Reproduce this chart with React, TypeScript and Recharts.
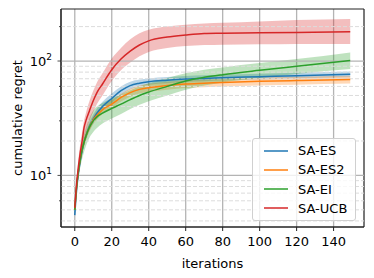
import React from 'react';
import {
  ComposedChart,
  Area,
  Line,
  XAxis,
  YAxis,
  CartesianGrid,
  ReferenceLine,
  ReferenceArea,
} from 'recharts';

// iteration points
const iterations = [0, 1, 2, 3, 4, 5, 6, 8, 10, 12, 15, 20, 25, 30, 35, 40, 50, 60, 70, 80, 100, 120, 149];

const esMean = [4.5, 7.5, 10.5, 13.5, 16.5, 19.5, 22, 27, 31, 35, 40, 47, 55, 61, 64, 66, 68, 69.5, 70.5, 71.5, 73, 74.5, 76.5];
const esHi = [4.7, 8, 11.3, 14.5, 17.8, 21, 24, 29.5, 34, 38.5, 44, 52, 60, 66, 69, 70.5, 72.5, 74, 75, 76, 77.5, 79, 81];
const esLo = [4.3, 7, 9.8, 12.5, 15.3, 18, 20.3, 24.8, 28.5, 32, 36.5, 43, 50.5, 56.5, 60, 62, 64, 65.5, 66.5, 67.5, 69, 70.5, 72];

const es2Mean = [5, 8, 11, 14, 17, 19.5, 22, 26.5, 30.5, 33.5, 37.5, 42, 48, 53, 56.5, 58.5, 61, 63, 64, 65, 66.5, 67.5, 69];
const es2Hi = [5.4, 8.6, 11.9, 15.1, 18.4, 21.1, 23.8, 28.6, 33, 36.2, 40.5, 45.4, 51.8, 57.2, 61, 63.2, 65.9, 68, 69.1, 70.2, 71.8, 72.9, 74.5];
const es2Lo = [4.6, 7.4, 10.1, 12.9, 15.6, 17.9, 20.2, 24.4, 28.1, 30.8, 34.5, 38.6, 44.2, 48.8, 52, 53.8, 56.1, 58, 58.9, 59.8, 61.2, 62.1, 63.5];

const eiMean = [5, 8, 11, 14, 17, 19.5, 22, 26.5, 30, 32.5, 35, 38.5, 42, 46, 50, 53.5, 60, 67, 72, 76, 83, 90, 101];
const eiHi = [5.3, 8.8, 12.5, 16.2, 20, 23, 26, 32, 37, 40, 43, 47, 51, 55.5, 60, 64, 71, 78, 84, 88, 96, 104, 119];
const eiLo = [4.7, 7.2, 9.5, 11.8, 14, 16, 18, 21.5, 24, 26, 28.5, 31.5, 34.5, 38, 41.5, 44.5, 50, 56, 61, 65, 71, 77, 85];

const ucbMean = [5.2, 8.5, 12, 16, 20, 26, 30, 37, 45, 53, 63, 84, 104, 122, 138, 150, 162, 169, 174, 175, 177, 178, 180];
const ucbHi = [5.5, 9.5, 14, 19, 24, 30, 35, 45, 55, 65, 78, 105, 130, 155, 175, 188, 200, 208, 213, 216, 222, 228, 233];
const ucbLo = [5, 7.5, 10.5, 13.5, 17, 21, 24, 30, 36, 42, 50, 67, 83, 97, 110, 120, 130, 135, 138, 139, 140, 141, 141];

const xTicks = [0, 20, 40, 60, 80, 100, 120, 140];
const yMajor = [10, 100];
const yMinor = [4, 5, 6, 7, 8, 9, 20, 30, 40, 50, 60, 70, 80, 90, 200];

const X_DOMAIN = [-7.45, 156.45];
const Y_DOMAIN = [3.54, 285];

const series = [
  { name: 'SA-ES', key: 'es', color: '#1f77b4' },
  { name: 'SA-ES2', key: 'es2', color: '#ff7f0e' },
  { name: 'SA-EI', key: 'ei', color: '#2ca02c' },
  { name: 'SA-UCB', key: 'ucb', color: '#d62728' },
];

const data = iterations.map((x, i) => ({
  x,
  es: esMean[i],
  esBand: [esLo[i], esHi[i]],
  es2: es2Mean[i],
  es2Band: [es2Lo[i], es2Hi[i]],
  ei: eiMean[i],
  eiBand: [eiLo[i], eiHi[i]],
  ucb: ucbMean[i],
  ucbBand: [ucbLo[i], ucbHi[i]],
}));

const FONT = 'DejaVu Sans, sans-serif';

const YTick = (props: any) => {
  const { x, y, payload } = props;
  const v = payload.value;
  const major = yMajor.includes(v);
  if (!major) {
    return <line x1={x - 2} x2={x} y1={y} y2={y} stroke="#222" strokeWidth={0.8} />;
  }
  const exp = v === 10 ? '1' : '2';
  return (
    <g>
      <line x1={x - 3.5} x2={x} y1={y} y2={y} stroke="#222" strokeWidth={0.8} />
      <text x={x - 9} y={y + 4.5} textAnchor="end" fontSize={13} fontFamily={FONT} fill="#000">
        10
        <tspan fontSize={9} dy={-6}>{exp}</tspan>
      </text>
    </g>
  );
};

export default function App() {
  return (
    <div style={{ position: 'absolute', left: 0, top: 0, width: 374, height: 278, background: '#fff' }}>
      <ComposedChart width={374} height={278} data={data} margin={{ top: 9, right: 10, left: 0, bottom: 0 }}>
        <CartesianGrid horizontal={false} stroke="#b4b4b4" strokeWidth={1.3} />
        {yMinor.map((v) => (
          <ReferenceLine key={'m' + v} y={v} stroke="#dcdcdc" strokeDasharray="4 2" strokeWidth={1} />
        ))}
        {yMajor.map((v) => (
          <ReferenceLine key={'M' + v} y={v} stroke="#b4b4b4" strokeWidth={1.3} />
        ))}
        <XAxis
          dataKey="x"
          type="number"
          domain={X_DOMAIN}
          ticks={xTicks}
          allowDataOverflow
          height={51}
          tickSize={4}
          tickMargin={6}
          stroke="#222"
          tick={{ fill: '#000', fontSize: 13, fontFamily: FONT }}
          label={{ value: 'iterations', position: 'insideBottom', offset: 10, fill: '#000', fontSize: 13, fontFamily: FONT }}
        />
        <YAxis
          scale="log"
          domain={Y_DOMAIN}
          allowDataOverflow
          ticks={[...yMinor, ...yMajor].sort((a, b) => a - b)}
          width={61}
          tickSize={0}
          tickMargin={0}
          tickLine={false}
          stroke="#222"
          tick={<YTick />}
          label={{
            value: 'cumulative regret',
            angle: -90,
            position: 'insideLeft',
            offset: 17,
            fill: '#000',
            fontSize: 13,
            fontFamily: FONT,
            style: { textAnchor: 'middle' },
          }}
        />
        {series.map((s) => (
          <Area
            key={s.key + 'band'}
            type="monotone"
            dataKey={s.key + 'Band'}
            stroke="none"
            fill={s.color}
            fillOpacity={0.3}
            isAnimationActive={false}
          />
        ))}
        {series.map((s) => (
          <Line
            key={s.key}
            type="monotone"
            dataKey={s.key}
            stroke={s.color}
            strokeWidth={1.5}
            dot={false}
            isAnimationActive={false}
          />
        ))}
        {/* full box frame like matplotlib spines */}
        <ReferenceArea
          x1={X_DOMAIN[0]}
          x2={X_DOMAIN[1]}
          y1={Y_DOMAIN[0]}
          y2={Y_DOMAIN[1]}
          fill="none"
          stroke="#222"
          strokeWidth={1}
          ifOverflow="visible"
        />
      </ComposedChart>
      <div
        style={{
          position: 'absolute',
          left: 252,
          top: 138,
          width: 104,
          height: 83,
          border: '1px solid #d0d0d0',
          borderRadius: 3,
          background: 'rgba(255,255,255,0.8)',
          fontFamily: FONT,
          fontSize: 13,
          boxSizing: 'border-box',
        }}
      >
        {series.map((s, i) => (
          <div
            key={s.key}
            style={{ position: 'absolute', left: 0, top: 2 + i * 19.3, height: 19, display: 'flex', alignItems: 'center' }}
          >
            <svg width={24} height={4} style={{ marginLeft: 11 }}>
              <line x1={0} x2={24} y1={2} y2={2} stroke={s.color} strokeWidth={1.5} />
            </svg>
            <span style={{ marginLeft: 10, color: '#000' }}>{s.name}</span>
          </div>
        ))}
      </div>
    </div>
  );
}
